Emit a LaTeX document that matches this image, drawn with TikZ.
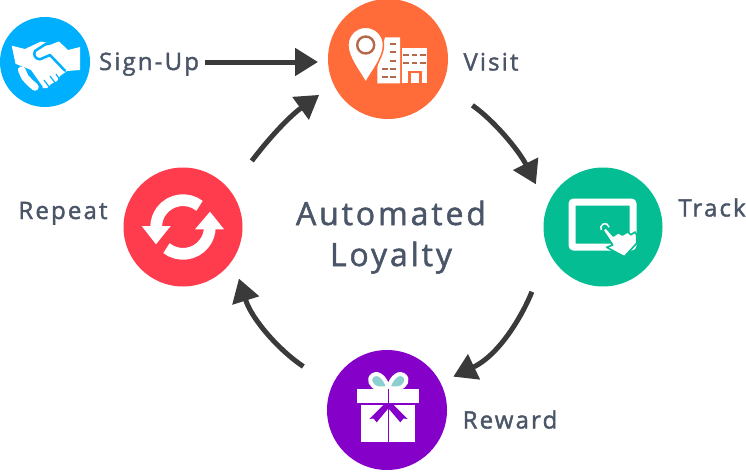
\documentclass[tikz,border=0pt]{standalone}
\usepackage{fontspec}
\setmainfont{Open Sans}[LetterSpace=9, FakeBold=1.6]
\usetikzlibrary{arrows.meta}

\definecolor{blueStage}{HTML}{00B0FF}
\definecolor{orangeStage}{HTML}{FF6B39}
\definecolor{greenStage}{HTML}{05BD92}
\definecolor{purpleStage}{HTML}{8500C8}
\definecolor{redStage}{HTML}{FF3B4E}
\definecolor{labelText}{HTML}{4A5568}
\definecolor{arrowDark}{HTML}{3A3A3A}
\definecolor{pinBrown}{HTML}{B5694A}
\definecolor{bowTeal}{HTML}{8CCFD0}

\tikzset{
    every stage/.style={circle, inner sep=0pt, outer sep=0pt},
    every label text/.style={inner sep=3pt, anchor=base, text=labelText, font=\fontsize{24}{24}\selectfont},
    every title text/.style={every label text, font=\fontsize{32}{32}\selectfont},
    flow/.style={draw=arrowDark, line width=5pt, -{Triangle[length=23pt, width=27pt]}},
    window/.style={pinBrown, line width=2pt},
}

\begin{document}
\begin{tikzpicture}[x=1pt, y=-1pt]
        \useasboundingbox (0,0) rectangle (746,471);

        %%%%%%%%%%%%%%%%%%%%%%%%%%%%%%%%%%%%%%%%%%%%
        % Stage circles
        %%%%%%%%%%%%%%%%%%%%%%%%%%%%%%%%%%%%%%%%%%%%
        \foreach \n/\c/\x/\y/\d in {signup/blueStage/45/62/90, visit/orangeStage/388/59/120, track/greenStage/603/227/119, reward/purpleStage/387/410/120, repeat/redStage/183/227/119}
            \node [every stage, fill=\c, minimum size=\d pt] (\n) at (\x,\y) {};

        %%%%%%%%%%%%%%%%%%%%%%%%%%%%%%%%%%%%%%%%%%%%
        % Labeling
        %%%%%%%%%%%%%%%%%%%%%%%%%%%%%%%%%%%%%%%%%%%%
        \foreach \n/\l/\x/\y in {signup/Sign-Up/149/70, visit/Visit/491/70.5, track/Track/712/216.5, reward/Reward/510/428.5, repeat/Repeat/63/219}
            \node [every label text] (\n-label) at (\x,\y) {\l};
        \node [every title text] (title-top) at (391,225) {Automated};
        \node [every title text] (title-bottom) at (391,266) {Loyalty};

        %%%%%%%%%%%%%%%%%%%%%%%%%%%%%%%%%%%%%%%%%%%%
        % Connecting
        %%%%%%%%%%%%%%%%%%%%%%%%%%%%%%%%%%%%%%%%%%%%

        % Sign-up into the loop
        \draw [flow, shorten <=3pt, shorten >=10pt] (signup-label.east |- signup) -- (visit.west |- signup);

        % Around the loop
        \foreach \from/\aout/\to/\ain/\gout/\gin/\bout/\bin in {visit/-25.7/track/160/36.6/25/-35/116.6, track/203.3/reward/27.7/44.6/14.2/248.5/25.4, reward/156.5/repeat/-33.4/34.6/20.1/146.5/-72.6, repeat/38.3/visit/205.2/36.7/17.9/53.3/216}
            \draw [flow, shorten <=\gout pt, shorten >=\gin pt] (\from.\aout) to [out=\bout, in=\bin] (\to.\ain);

        %%%%%%%%%%%%%%%%%%%%%%%%%%%%%%%%%%%%%%%%%%%%
        % Handshake icon
        %%%%%%%%%%%%%%%%%%%%%%%%%%%%%%%%%%%%%%%%%%%%
        \fill [white] (11.7,45.7) -- (25,49) -- (41,41.5) -- (52,44) -- (59,41.5) -- (68,50) -- (80,47) -- (80,70)
            -- (67,71) -- (60,76) -- (57,81) -- (51,84) -- (47,88) -- (42,88) -- (30,72) -- (16,66) -- cycle;
        \draw [blueStage, line width=2.5pt, line cap=round, line join=round] (65,70.7) -- (50,55) -- (40,59.3)
            .. controls (35,59) and (33,55) .. (35,51) -- (45,44.5) -- (52,43);
        \draw [blueStage, line width=2.5pt] (15,65) -- (30,71) -- (42,88);
        \foreach \a/\b/\c/\d in {50/76/56/84, 44/80/50/88, 56/74/60/80}
            \draw [blueStage, line width=1.2pt] (\a,\b) -- (\c,\d);
        \draw [white, line width=7.5pt, line cap=round, line join=round] (21.7,70) -- (25,77.3) -- (30,82.7) -- (35,87);

        %%%%%%%%%%%%%%%%%%%%%%%%%%%%%%%%%%%%%%%%%%%%
        % Pin and buildings icon
        %%%%%%%%%%%%%%%%%%%%%%%%%%%%%%%%%%%%%%%%%%%%
        \fill [white] (377.3,83.3) -- (377.3,68) -- (385,37.3) -- (400,37.3) -- (400,83.3) -- cycle;
        \fill [white] (402.3,48.3) rectangle (426.7,83.3);
        \fill [orangeStage] (408.3,83.3) -- (408.3,70.7) -- (421.7,70.7) -- (421.7,83.3) -- cycle;
        \fill [white] (410.7,73.3) rectangle (419.3,83.3);
        \foreach \x/\y in {392.7/44.3, 392.7/51.7, 392.7/60.7, 385/69, 392.7/69, 385/77.3, 392.7/77.3, 406/55, 414.3/55, 422.7/55, 406/63.3, 414.3/63.3, 422.7/63.3}
            \draw [window] (\x-2.8,\y) -- (\x+2.8,\y);
        \draw [orangeStage, fill=white, line width=1.5pt] (365.7,82.7) .. controls (360,72) and (347.9,58) .. (347.9,45)
            arc [start angle=180, end angle=360, radius=17.8]
            .. controls (383.5,58) and (371.4,72) .. (365.7,82.7) -- cycle;
        \draw [pinBrown, line width=2.4pt] (365.7,45) circle [radius=8.5];

        %%%%%%%%%%%%%%%%%%%%%%%%%%%%%%%%%%%%%%%%%%%%
        % Tablet icon
        %%%%%%%%%%%%%%%%%%%%%%%%%%%%%%%%%%%%%%%%%%%%
        \draw [white, line width=7pt, rounded corners=2pt] (572,202) rectangle (633,247);
        \draw [greenStage, fill=white, line width=1.6pt, line join=round] (602.7,230) -- (606,227.7) -- (613.3,236) -- (618.3,232.7)
            -- (622.3,235) -- (627.7,232) -- (631,234.7) -- (635,232) -- (636.7,235) -- (636.7,243.3) -- (624.3,256.7)
            -- (606.7,247.3) -- (612.7,245) -- cycle;
        \draw [white, line width=1.5pt] (601.3,230) arc [start angle=150, end angle=350, radius=4.2];

        %%%%%%%%%%%%%%%%%%%%%%%%%%%%%%%%%%%%%%%%%%%%
        % Gift icon
        %%%%%%%%%%%%%%%%%%%%%%%%%%%%%%%%%%%%%%%%%%%%
        \draw [white, fill=bowTeal, line width=4pt, line join=round] (388.3,388.3) .. controls (385,375) and (376,372) .. (373,375)
            .. controls (367,379) and (371,387) .. (378,388.3) -- cycle;
        \draw [white, fill=bowTeal, line width=4pt, line join=round] (388.3,388.3) .. controls (391.6,375) and (400.6,372) .. (403.6,375)
            .. controls (409.6,379) and (405.6,387) .. (398.6,388.3) -- cycle;
        \fill [white] (356.7,389) rectangle (419,403.3);
        \fill [white] (361.3,405) rectangle (415,441.7);
        \fill [purpleStage] (387.6,389) rectangle (389.2,441.7);
        \fill [purpleStage] (383.3,405) -- (369.3,419) -- (373.5,418.5) -- (376.7,422.3) -- (388.4,408.3) -- (400.3,422.3) -- (403.5,418.5) -- (407.7,419) -- (393.5,405) -- cycle;

        %%%%%%%%%%%%%%%%%%%%%%%%%%%%%%%%%%%%%%%%%%%%
        % Refresh icon
        %%%%%%%%%%%%%%%%%%%%%%%%%%%%%%%%%%%%%%%%%%%%
        \foreach \s/\e in {-52/-180, -232/-360}
            \draw [white, line width=11.7pt] (repeat.center) ++(\s:26.85) arc [start angle=\s, end angle=\e, radius=26.85];
        \fill [white] (141.7,226) -- (170.7,226) -- (156,244.3) -- cycle;
        \fill [white] (195,229.3) -- (224,229.3) -- (210,211.7) -- cycle;
\end{tikzpicture}
\end{document}
